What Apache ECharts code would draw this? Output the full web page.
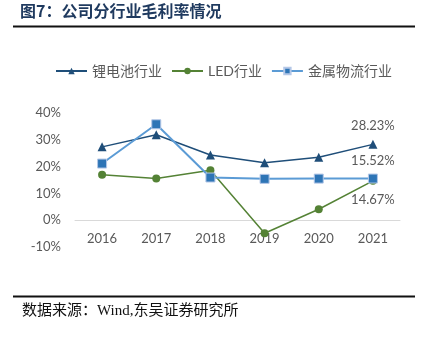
<!DOCTYPE html>
<html>
<head>
<meta charset="utf-8">
<script src="https://cdn.jsdelivr.net/npm/echarts@6/dist/echarts.min.js"></script>
<style>
  html, body { margin: 0; padding: 0; background: #fff; }
  #chart { width: 426px; height: 338px; }
</style>
</head>
<body>
<div id="chart"></div>
<script>
// Gross margin by business segment, 2016–2021 (%)
const years = ['2016', '2017', '2018', '2019', '2020', '2021'];
const lithiumMargin = [27.3, 31.8, 24.3, 21.4, 23.4, 28.23];
const ledMargin = [16.9, 15.5, 18.6, -4.8, 4.1, 14.67];
const metalLogisticsMargin = [21.1, 35.7, 15.9, 15.4, 15.5, 15.52];
const seriesNames = ['锂电池行业', 'LED行业', '金属物流行业'];
const yTicks = { min: -10, max: 40, interval: 10 };

const cjk = "Lato, 'Noto Sans CJK SC', sans-serif";
const gray = '#595959';

// Only the latest year carries a value label
function lastLabel(pos, dist) {
  return {
    show: true,
    position: pos,
    distance: dist,
    color: gray,
    fontSize: 13,
    fontFamily: cjk,
    formatter: p => p.dataIndex === years.length - 1 ? p.value.toFixed(2) + '%' : ''
  };
}

const chart = echarts.init(document.getElementById('chart'), null, { renderer: 'canvas' });
chart.setOption({
  backgroundColor: '#fff',
  animation: false,
  title: {
    text: '图7：公司分行业毛利率情况',
    left: 20, top: 3, padding: 0,
    textStyle: { fontSize: 16, fontWeight: 'bold', color: '#1F3A5F', fontFamily: "'Noto Sans CJK SC', sans-serif" }
  },
  graphic: [
    { type: 'line', shape: { x1: 13, y1: 26.5, x2: 415, y2: 26.5 }, style: { stroke: '#111', lineWidth: 2 } },
    { type: 'line', shape: { x1: 13, y1: 296.5, x2: 415, y2: 296.5 }, style: { stroke: '#111', lineWidth: 2 } },
    {
      type: 'text', left: 22, top: 304,
      style: {
        text: '数据来源：Wind,东吴证券研究所',
        fill: '#111', fontSize: 15,
        fontFamily: "'Liberation Serif', 'Noto Sans CJK SC', serif"
      }
    }
  ],
  legend: {
    top: 64, left: 55, padding: 0,
    itemWidth: 31, itemHeight: 8, itemGap: 9,
    textStyle: { fontSize: 14, color: gray, fontFamily: cjk },
    data: seriesNames
  },
  grid: { left: 75, right: 26, top: 112.7, height: 134.5, containLabel: false },
  xAxis: {
    type: 'category',
    data: years,
    boundaryGap: true,
    // axis sits on the 0% level, labels just beneath it
    offset: -27,
    axisLine: { onZero: false, lineStyle: { color: '#D9D9D9', width: 1 } },
    axisTick: { show: false },
    axisLabel: { color: gray, fontSize: 13, fontFamily: cjk, margin: 12 }
  },
  yAxis: {
    type: 'value',
    min: yTicks.min, max: yTicks.max, interval: yTicks.interval,
    splitLine: { show: false },
    axisLine: { show: false },
    axisTick: { show: false },
    axisLabel: { color: gray, fontSize: 13, fontFamily: cjk, margin: 14, formatter: '{value}%' }
  },
  series: [
    {
      name: seriesNames[0], type: 'line', data: lithiumMargin,
      symbol: 'triangle', symbolSize: 9,
      lineStyle: { color: '#1F4E79', width: 1.5 },
      itemStyle: { color: '#1F4E79' },
      label: lastLabel('top', 8)
    },
    {
      name: seriesNames[1], type: 'line', data: ledMargin,
      symbol: 'circle', symbolSize: 8,
      lineStyle: { color: '#548235', width: 1.5 },
      itemStyle: { color: '#548235' },
      label: lastLabel('bottom', 8)
    },
    {
      name: seriesNames[2], type: 'line', data: metalLogisticsMargin,
      symbol: 'rect', symbolSize: 9,
      lineStyle: { color: '#5B9BD5', width: 2 },
      itemStyle: { color: '#2E75B6', borderColor: '#B4C7E7', borderWidth: 1 },
      label: lastLabel('top', 6)
    }
  ]
});
</script>
</body>
</html>
